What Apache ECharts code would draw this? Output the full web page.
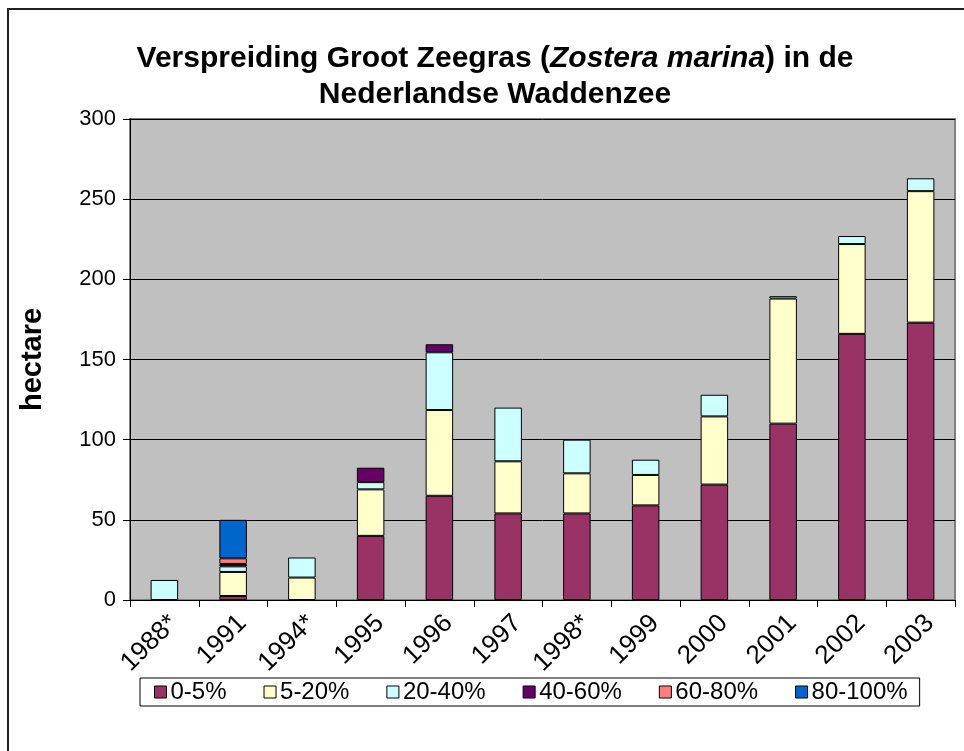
<!DOCTYPE html>
<html>
<head>
<meta charset="utf-8">
<script src="https://cdn.jsdelivr.net/npm/echarts@6/dist/echarts.min.js"></script>
<style>
  html, body { margin: 0; padding: 0; background: #ffffff; }
  #chart { width: 964px; height: 751px; }
</style>
</head>
<body>
<div id="chart"></div>
<script>
// 数据 - 近似值 (hectare)
const years = ['1988*', '1991', '1994*', '1995', '1996', '1997', '1998*', '1999', '2000', '2001', '2002', '2003'];
const cover0to5 = [null, 2.5, null, 40, 65, 54, 54, 59, 72, 110, 166, 173];
const cover5to20 = [null, 15, 14, 29, 53.5, 32.5, 25, 19, 42.5, 78, 56, 82];
const cover20to40 = [12.5, 3.5, 12.5, 4.5, 36, 33.5, 21, 9.5, 13.5, 1.5, 5, 8];
const cover40to60 = [null, 1.5, null, 9, 5, null, null, null, null, null, null, null];
const cover60to80 = [null, 3.5, null, null, null, null, null, null, null, null, null, null];
const cover80to100 = [null, 24, null, null, null, null, null, null, null, null, null, null];
const yTicks = [0, 50, 100, 150, 200, 250, 300];

const FONT = '"Liberation Sans", Arial, sans-serif';

// 系列配置
const seriesDefs = [
    { name: '0-5%', data: cover0to5, color: '#993366' },
    { name: '5-20%', data: cover5to20, color: '#FFFFCC' },
    { name: '20-40%', data: cover20to40, color: '#CCFFFF' },
    { name: '40-60%', data: cover40to60, color: '#660066' },
    { name: '60-80%', data: cover60to80, color: '#FF8080' },
    { name: '80-100%', data: cover80to100, color: '#0066CC' }
];

const chart = echarts.init(document.getElementById('chart'), null, { renderer: 'canvas' });

const option = {
    animation: false,
    backgroundColor: '#ffffff',
    textStyle: { fontFamily: FONT },
    title: {
        text: 'Verspreiding Groot Zeegras ({i|Zostera marina}) in de\nNederlandse Waddenzee',
        left: 490,
        textAlign: 'center',
        top: 36,
        textStyle: {
            fontFamily: FONT,
            fontSize: 30,
            fontWeight: 'bold',
            color: '#000',
            lineHeight: 36,
            rich: {
                i: { fontFamily: FONT, fontSize: 30, fontWeight: 'bold', fontStyle: 'italic', color: '#000', lineHeight: 36 }
            }
        }
    },
    graphic: [
        // 外框
        {
            type: 'rect',
            shape: { x: 8, y: 9, width: 1000, height: 800 },
            style: { fill: 'none', stroke: '#222', lineWidth: 2 },
            silent: true
        }
    ],
    legend: {
        data: seriesDefs.map(s => s.name),
        left: 140,
        top: 678,
        orient: 'horizontal',
        icon: 'rect',
        itemWidth: 12,
        itemHeight: 12,
        itemGap: 37,
        padding: [2, 12, 2, 14],
        borderColor: '#000',
        borderWidth: 1,
        itemStyle: { borderColor: '#000', borderWidth: 1 },
        textStyle: { fontFamily: FONT, fontSize: 24, color: '#000', padding: [0, 0, 0, -1] }
    },
    grid: {
        left: 130,
        right: 9,
        top: 119,
        bottom: 151,
        show: true,
        backgroundColor: '#C0C0C0',
        borderColor: '#808080',
        borderWidth: 2
    },
    xAxis: {
        type: 'category',
        data: years,
        boundaryGap: true,
        axisLine: { show: true, lineStyle: { color: '#000', width: 1 } },
        axisTick: { show: true, length: 7, lineStyle: { color: '#000' } },
        // verticalAlign top 让旋转后的标签向右下平移
        axisLabel: { rotate: 45, fontFamily: FONT, fontSize: 26, color: '#000', margin: 10, verticalAlign: 'top' }
    },
    yAxis: {
        type: 'value',
        min: yTicks[0],
        max: yTicks[yTicks.length - 1],
        interval: 50,
        name: 'hectare',
        nameLocation: 'middle',
        nameGap: 83,
        nameTextStyle: { fontFamily: FONT, fontSize: 29, fontWeight: 'bold', color: '#000' },
        axisLine: { show: true, lineStyle: { color: '#000', width: 1 } },
        axisTick: { show: true, inside: false, length: 7, lineStyle: { color: '#000' } },
        axisLabel: { fontFamily: FONT, fontSize: 22, color: '#000', margin: 14 },
        splitLine: { show: true, lineStyle: { color: '#000', width: 1 } }
    },
    series: seriesDefs.map(s => ({
        name: s.name,
        type: 'bar',
        stack: 'total',
        barWidth: '40%',
        data: s.data,
        itemStyle: { color: s.color, borderColor: '#000', borderWidth: 1 }
    }))
};

chart.setOption(option);
</script>
</body>
</html>
